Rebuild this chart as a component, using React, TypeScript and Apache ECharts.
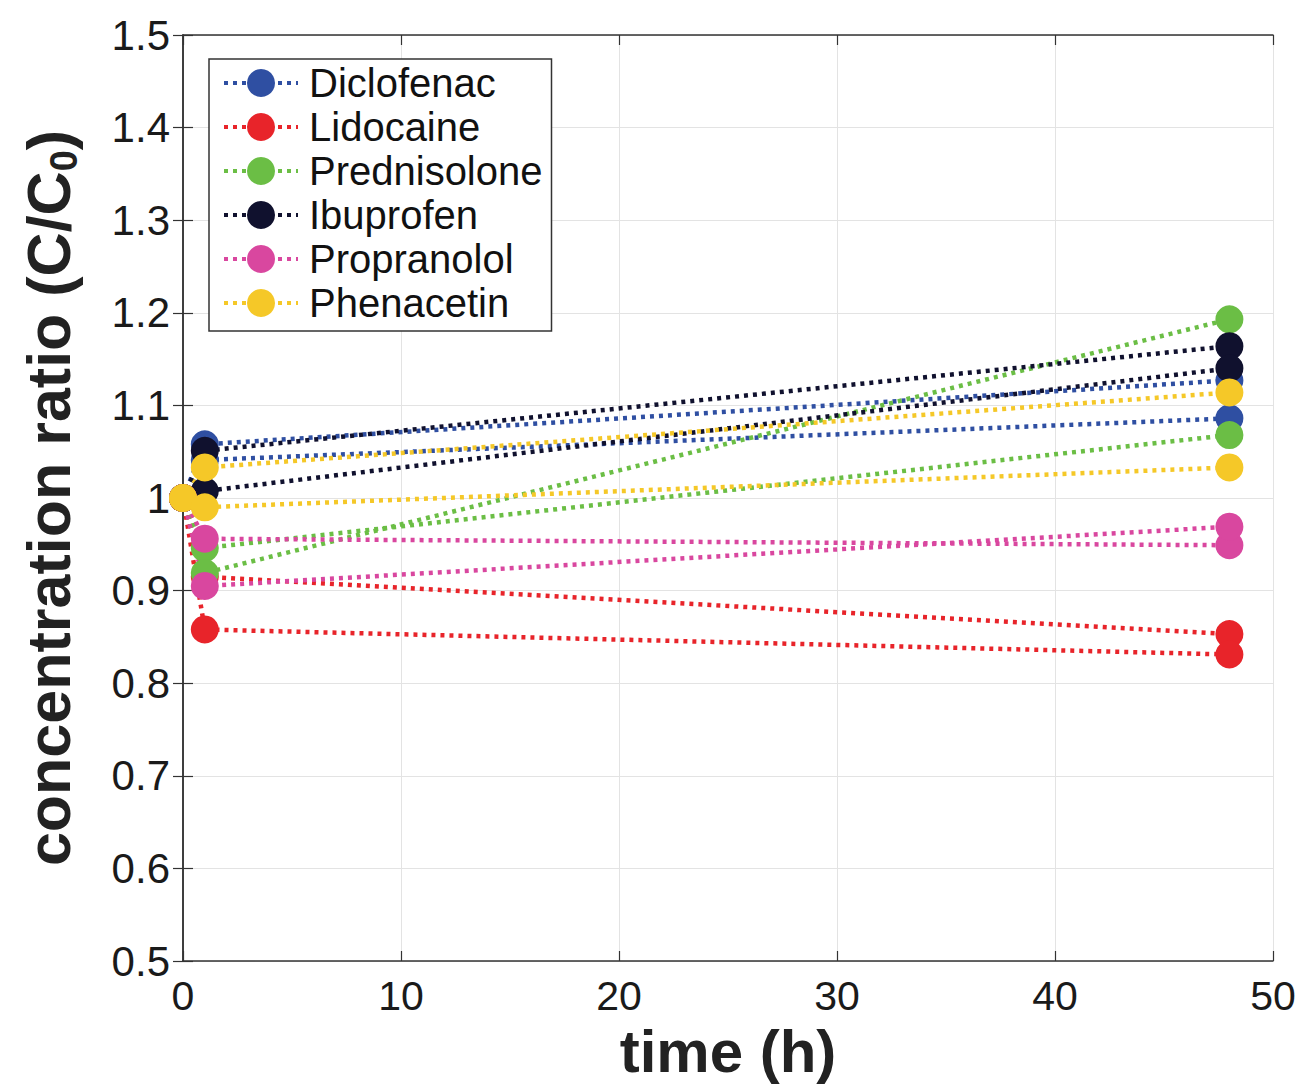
import React, { useEffect, useRef } from "react";
import * as echarts from "echarts";

const times = [0, 1, 48];
const drugNames = ["Diclofenac", "Lidocaine", "Prednisolone", "Ibuprofen", "Propranolol", "Phenacetin"];
const drugColors = ["#2F4FA2", "#E8242A", "#6BBE45", "#10112E", "#D9479F", "#F5C828"];
const diclofenac = [[1, 1.058, 1.127], [1, 1.041, 1.086]];
const lidocaine = [[1, 0.915, 0.853], [1, 0.858, 0.831]];
const prednisolone = [[1, 0.946, 1.068], [1, 0.919, 1.193]];
const ibuprofen = [[1, 1.051, 1.164], [1, 1.0075, 1.14]];
const propranolol = [[1, 0.956, 0.949], [1, 0.905, 0.969]];
const phenacetin = [[1, 1.033, 1.114], [1, 0.99, 1.033]];
const replicates = [diclofenac, lidocaine, prednisolone, ibuprofen, propranolol, phenacetin];

const FONT = "Liberation Sans";

export default function App() {
  const ref = useRef<HTMLDivElement>(null);
  useEffect(() => {
    if (!ref.current) return;
    const chart = echarts.init(ref.current, undefined, { renderer: "svg" });
    const series: any[] = [];
    replicates.forEach((reps, i) => {
      reps.forEach((vals) => {
        series.push({
          name: drugNames[i],
          type: "line",
          xAxisIndex: 0,
          yAxisIndex: 0,
          data: times.map((t, k) => [t, vals[k]]),
          symbol: "circle",
          symbolSize: 28,
          showSymbol: true,
          lineStyle: { color: drugColors[i], width: 4.5, type: [4, 5], cap: "butt" },
          itemStyle: { color: drugColors[i], borderWidth: 0 },
          z: 2,
        });
      });
    });
    const axisLine = { show: true, lineStyle: { color: "#333", width: 1.5 } };
    const tick = { show: true, inside: true, length: 10, lineStyle: { color: "#333", width: 1.2 } };
    const option: any = {
      animation: false,
      backgroundColor: "#fff",
      grid: { left: 183, right: 29, top: 35, bottom: 119, containLabel: false },
      legend: {
        data: drugNames,
        orient: "vertical",
        left: 209,
        top: 59,
        backgroundColor: "#fff",
        borderColor: "#333",
        borderWidth: 1.5,
        borderRadius: 0,
        padding: [2, 9, 6, 13],
        itemWidth: 74,
        itemHeight: 35,
        itemGap: 0,
        lineStyle: { width: 4, type: [4, 5] },
        textStyle: { fontFamily: FONT, fontSize: 40, color: "#111", lineHeight: 44, padding: [0, 0, 0, 6] },
      },
      xAxis: [
        {
          type: "value",
          min: 0,
          max: 50,
          interval: 10,
          name: "time (h)",
          nameLocation: "middle",
          nameGap: 60,
          nameTextStyle: { fontFamily: FONT, fontWeight: "bold", fontSize: 60, color: "#222" },
          axisLine,
          axisTick: tick,
          axisLabel: { fontFamily: FONT, fontSize: 41, color: "#1a1a1a", margin: 14 },
          splitLine: { show: true, lineStyle: { color: "#e3e3e3", width: 1 } },
        },
        {
          type: "value",
          position: "top",
          min: 0,
          max: 50,
          interval: 10,
          axisLine,
          axisTick: tick,
          axisLabel: { show: false },
          splitLine: { show: false },
        },
      ],
      yAxis: [
        {
          type: "value",
          min: 0.5,
          max: 1.5,
          interval: 0.1,
          name: "{a|concentration ratio (C/C}{s|0}{a|)}",
          nameLocation: "middle",
          nameGap: 100,
          nameRotate: 90,
          nameTextStyle: {
            rich: {
              a: { fontFamily: FONT, fontWeight: "bold", fontSize: 61, color: "#222" },
              s: { fontFamily: FONT, fontWeight: "bold", fontSize: 38, color: "#222", padding: [30, 0, 0, 0] },
            },
          },
          axisLine,
          axisTick: tick,
          axisLabel: { fontFamily: FONT, fontSize: 42, color: "#1a1a1a", margin: 13 },
          splitLine: { show: true, lineStyle: { color: "#e3e3e3", width: 1 } },
        },
        {
          type: "value",
          position: "right",
          min: 0.5,
          max: 1.5,
          interval: 0.1,
          axisLine,
          axisTick: tick,
          axisLabel: { show: false },
          splitLine: { show: false },
        },
      ],
      series,
    };
    chart.setOption(option);
    return () => chart.dispose();
  }, []);
  return <div ref={ref} style={{ width: 1302, height: 1086, position: "absolute", left: 0, top: 0 }} />;
}
